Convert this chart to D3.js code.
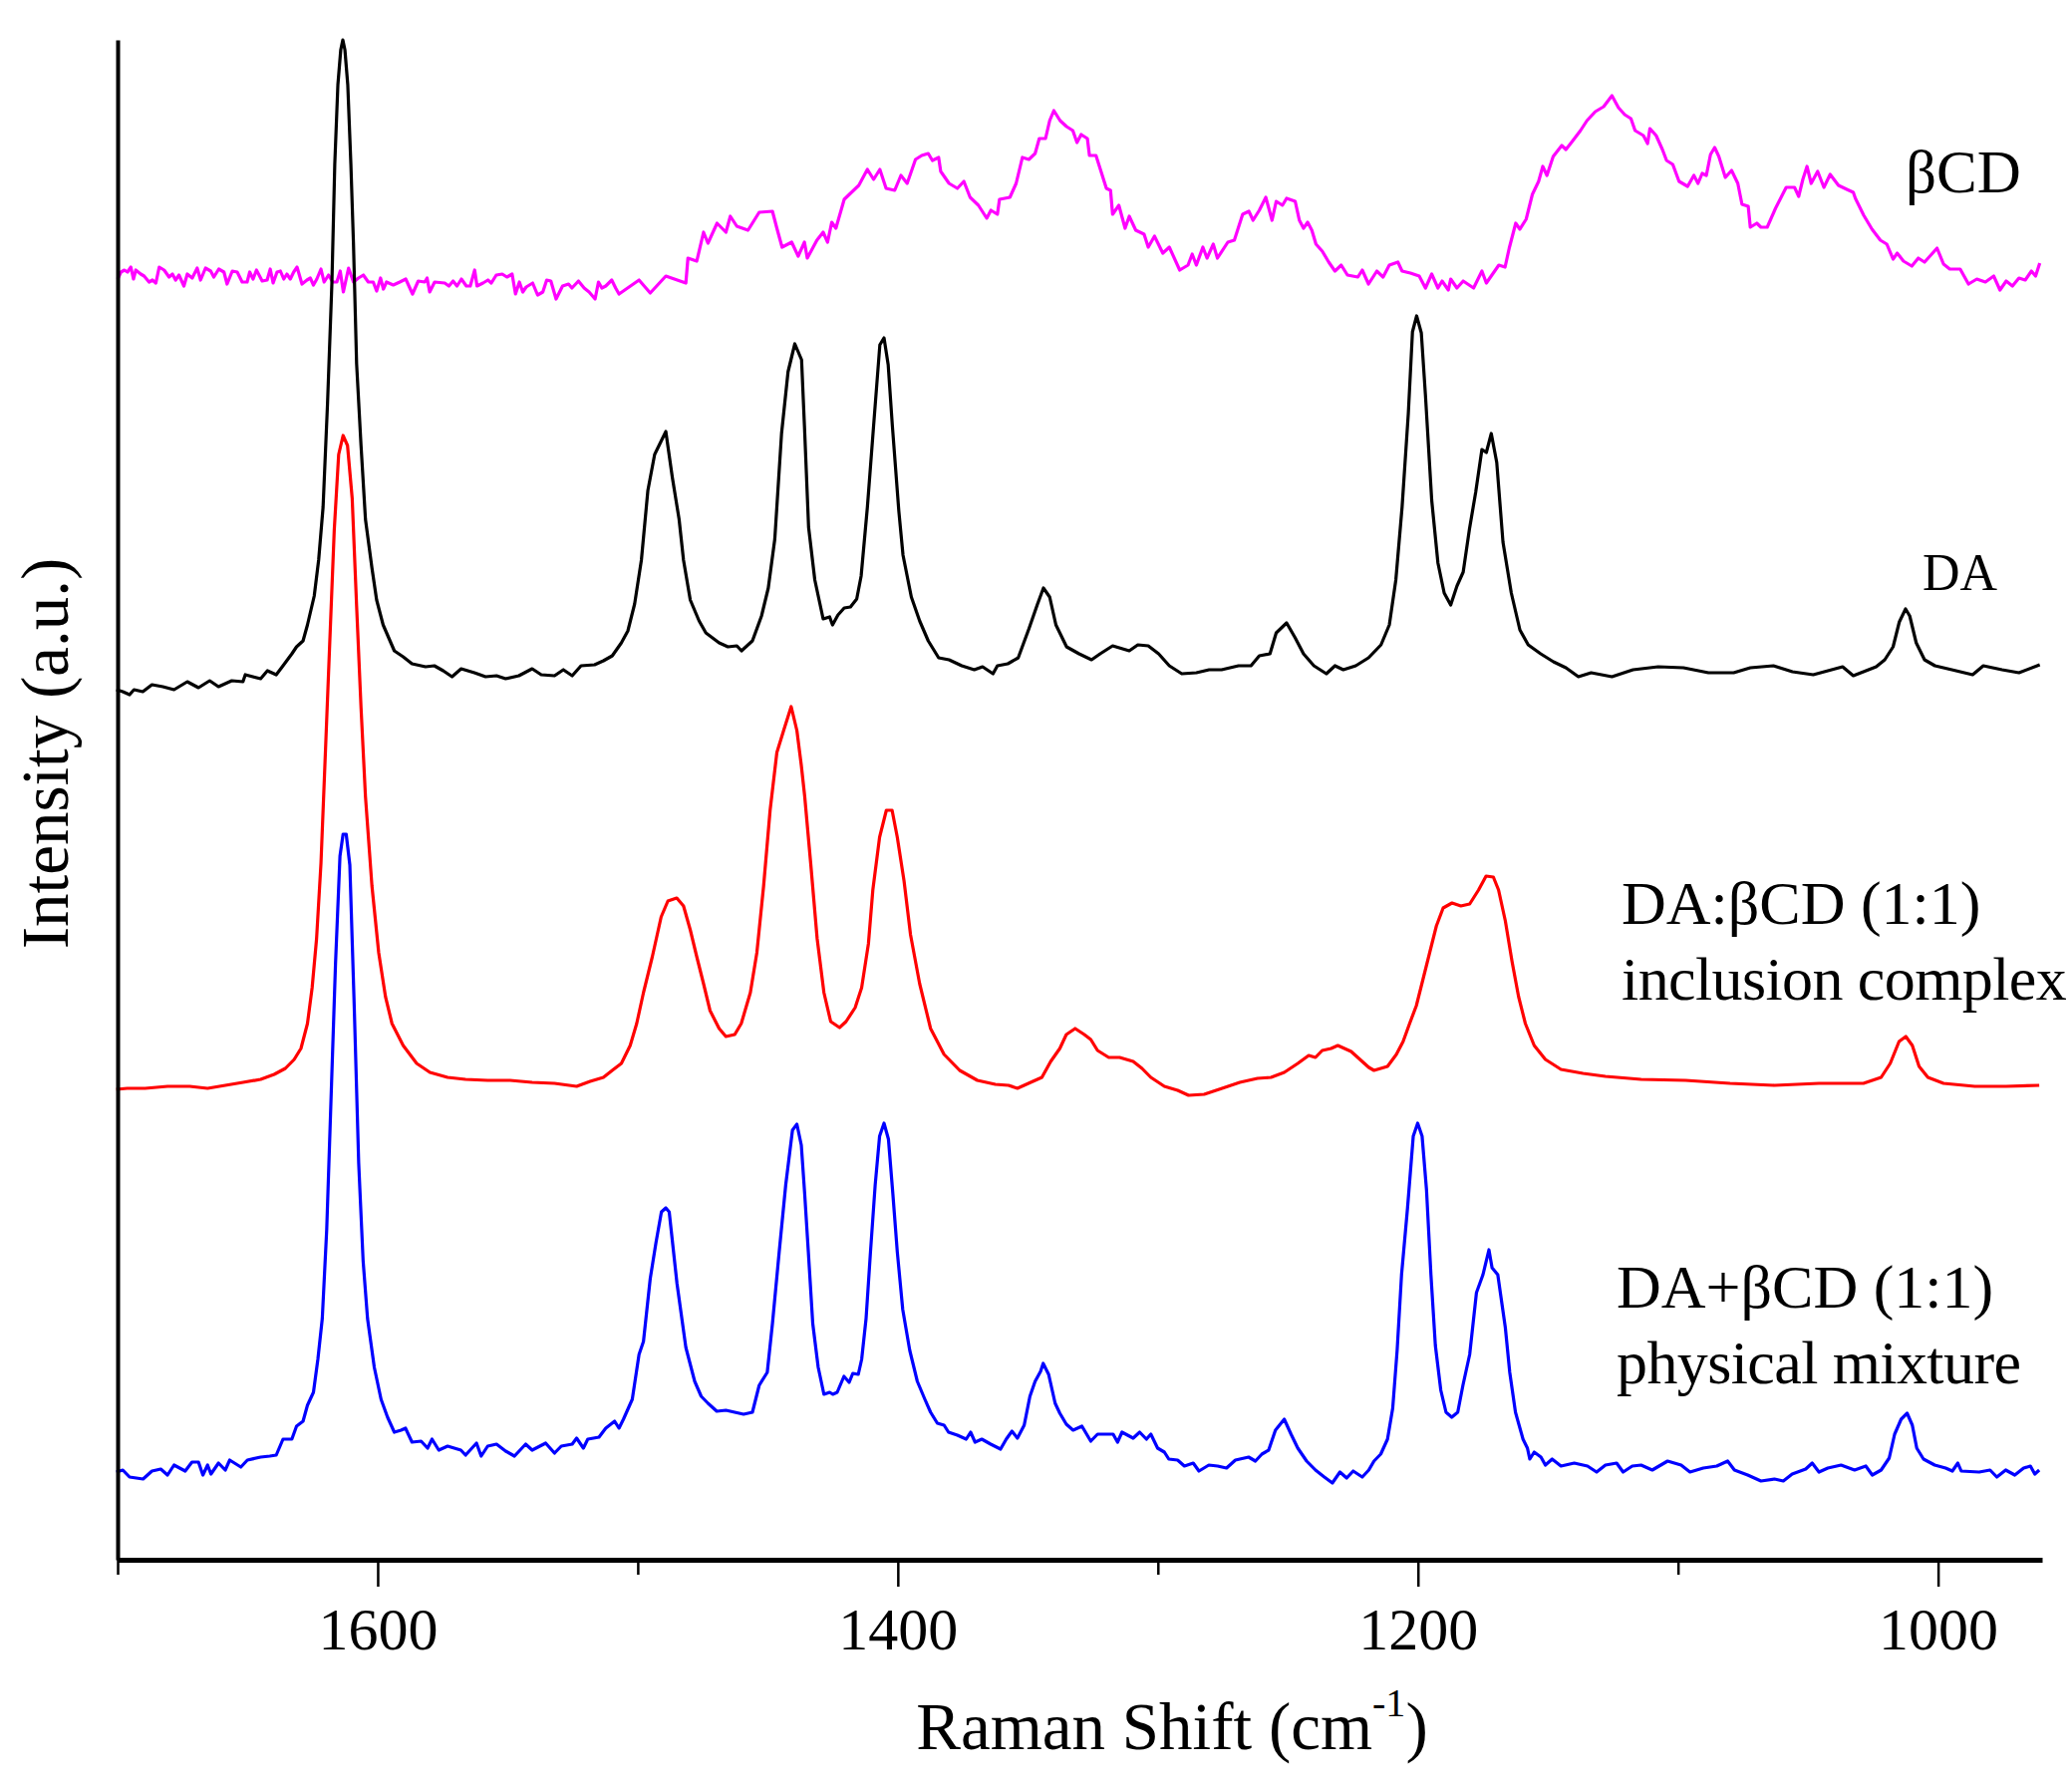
<!DOCTYPE html>
<meta charset="utf-8">
<head>
  <script src="https://cdn.jsdelivr.net/npm/d3@7"></script>
  <style>
    body { margin: 0; background: #fff; }
    text { font-family: "Liberation Serif", "Times New Roman", serif; fill: #000; }
  </style>
</head>
<body>
<script type="text/javascript">

// ---- data: [Raman shift (cm-1), intensity (a.u., offset stacked)] ----
var betaCD = [
  [1700,1285],[1698.7,1292],[1697.4,1294],[1696.2,1292],[1694.9,1297],[1693.9,1285],[1693,1294],[1691.1,1290],
  [1689.8,1288],[1687.9,1282],[1686.6,1284],[1685.3,1281],[1684,1297],[1682.1,1294],[1680.2,1287],[1678.9,1290],
  [1677.7,1284],[1676.4,1289],[1674.5,1278],[1673.2,1290],[1671.3,1286],[1669.4,1296],[1668.1,1284],[1666.2,1296],
  [1664.2,1293],[1663,1287],[1661.1,1295],[1659.1,1292],[1657.9,1280],[1655.9,1293],[1654,1292],[1652.1,1282],
  [1650.2,1282],[1649.2,1292],[1647.9,1285],[1646.6,1294],[1644.4,1283],[1642.5,1284],[1641.3,1295],[1640.2,1281],
  [1638.7,1292],[1637.4,1293],[1636.1,1285],[1634.9,1290],[1633.6,1285],[1632.3,1292],[1631,1297],[1629.1,1280],
  [1627.2,1284],[1625.9,1286],[1624.7,1279],[1623.4,1285],[1621.8,1295],[1620.6,1282],[1618.9,1289],[1617.3,1282],
  [1615.7,1282],[1614.4,1293],[1613.2,1272],[1611.2,1296],[1609.3,1282],[1607.4,1286],[1605.5,1289],[1603.6,1282],
  [1601.7,1282],[1600.4,1273],[1598.9,1286],[1597.8,1275],[1596.6,1282],[1594,1279],[1591.5,1282],[1589.2,1285],
  [1586.6,1270],[1584.4,1283],[1581.9,1282],[1581,1286],[1580,1272],[1578.1,1282],[1574.2,1281],[1572.6,1278],
  [1571,1283],[1569.5,1278],[1567.8,1285],[1565.9,1278],[1564.4,1278],[1562.7,1294],[1561.8,1278],[1559.5,1281],
  [1557.6,1284],[1556.3,1281],[1554.4,1289],[1552.1,1290],[1550.3,1287],[1548.3,1290],[1547,1270],[1545.5,1282],
  [1544.2,1272],[1542.9,1277],[1540.4,1281],[1538.5,1269],[1536.5,1272],[1535,1284],[1533.4,1283],[1531.4,1265],
  [1528.9,1278],[1526.6,1280],[1525.3,1276],[1522.8,1283],[1520.6,1276],[1518.7,1272],[1516.4,1265],[1515.1,1282],
  [1513.8,1276],[1512.3,1278],[1510,1284],[1508.5,1276],[1507.2,1270],[1499.5,1284],[1495.2,1271],[1489.2,1288],
  [1481.5,1281],[1480.7,1306],[1477.3,1303],[1474.7,1332],[1473,1321],[1469.5,1341],[1466.1,1332],[1464.4,1348],
  [1461.9,1338],[1457.6,1334],[1453.3,1352],[1448.2,1353],[1446.5,1336],[1444.5,1317],[1440.8,1322],[1438.3,1308],
  [1435.9,1322],[1434.8,1306],[1431.1,1324],[1428.7,1332],[1427,1322],[1425.4,1342],[1423.8,1336],[1420.6,1365],
  [1415,1379],[1411.7,1395],[1409.3,1385],[1406.9,1395],[1404.5,1376],[1401.2,1374],[1398.8,1389],[1396.4,1381],
  [1393.2,1405],[1390.8,1409],[1388.3,1411],[1386.7,1404],[1384.3,1407],[1383.5,1393],[1380.3,1381],[1377.1,1376],
  [1374.6,1383],[1372.2,1367],[1369,1359],[1365.8,1346],[1364.2,1354],[1361.7,1350],[1360.9,1365],[1356.9,1367],
  [1354.5,1381],[1352.1,1407],[1349.6,1405],[1347.2,1411],[1345.6,1426],[1343.2,1426],[1341.6,1444],[1340,1454],
  [1337.6,1444],[1335.1,1438],[1332.7,1434],[1331.1,1422],[1329.5,1430],[1327.1,1426],[1326.3,1409],[1323.8,1409],
  [1319.8,1376],[1318.2,1374],[1317.4,1350],[1315,1359],[1312.6,1336],[1311,1348],[1308.5,1334],[1305.3,1330],
  [1303.7,1317],[1301.3,1328],[1298.1,1311],[1295.6,1317],[1291.6,1294],[1288.4,1299],[1286.8,1310],[1285.2,1299],
  [1282.7,1317],[1281.1,1306],[1278.7,1320],[1277.1,1306],[1273.1,1322],[1270.6,1324],[1267.4,1350],[1265,1353],
  [1263.4,1344],[1261,1354],[1258.5,1367],[1256.1,1344],[1254.5,1363],[1252.1,1359],[1250.5,1366],[1247.2,1363],
  [1245.6,1344],[1244,1336],[1242.4,1342],[1240.8,1334],[1239.2,1320],[1236.8,1313],[1234.3,1302],[1231.9,1293],
  [1229.5,1299],[1227.1,1289],[1223.1,1287],[1221.4,1294],[1219,1280],[1215.8,1293],[1213.4,1287],[1211,1299],
  [1207.7,1302],[1206.1,1293],[1202.9,1291],[1199.5,1288],[1197.1,1276],[1194.7,1290],[1192.3,1276],[1190.7,1283],
  [1188.3,1274],[1187.4,1285],[1185,1276],[1182.6,1283],[1178.6,1276],[1175.4,1293],[1173.7,1281],[1168.9,1299],
  [1166.5,1297],[1164.9,1316],[1162.4,1341],[1160.8,1335],[1158.4,1345],[1156,1370],[1153.6,1383],[1152,1398],
  [1150.4,1389],[1148,1408],[1144.7,1419],[1143.1,1415],[1140.7,1423],[1137.5,1434],[1135,1444],[1131.8,1453],
  [1128.6,1458],[1125.4,1469],[1122.9,1457],[1120.5,1450],[1118.1,1446],[1116.5,1434],[1113.3,1429],[1111.7,1421],
  [1110.8,1436],[1108.4,1429],[1106,1415],[1104.4,1404],[1102,1400],[1099.6,1383],[1096.3,1378],[1093.9,1389],
  [1092.3,1381],[1090.7,1391],[1089.1,1389],[1087.5,1410],[1085.9,1417],[1084.3,1408],[1081.8,1387],[1079.4,1394],
  [1077,1381],[1075.4,1360],[1073,1358],[1072.2,1337],[1069.7,1341],[1068.1,1337],[1065.7,1337],[1062.5,1356],
  [1058.4,1377],[1055.2,1377],[1053.6,1368],[1052,1385],[1050.4,1398],[1048.8,1381],[1046.3,1393],[1043.9,1377],
  [1041.5,1390],[1038.3,1379],[1035.1,1375],[1032.6,1372],[1031.8,1366],[1028.6,1349],[1025.4,1335],[1022.2,1324],
  [1019.7,1320],[1017.3,1305],[1015.7,1311],[1013.3,1303],[1010.1,1298],[1007.6,1306],[1005.2,1302],[1002.8,1309],
  [1000.4,1316],[997.9,1300],[995.5,1295],[991.5,1295],[988.3,1280],[985.1,1285],[981.8,1282],[978.6,1288],
  [976.2,1274],[973.8,1283],[971.4,1278],[968.9,1286],[966.5,1284],[964.1,1293],[962.5,1288],[960.9,1301]
];

var daPure = [
  [1700.5,873],[1698,871],[1695.4,868],[1693.7,873],[1690.3,871],[1686.8,878],[1682.6,876],[1678.3,873],
  [1673.2,881],[1668.9,875],[1664.6,882],[1661.2,876],[1656.1,882],[1651.8,881],[1650.9,888],[1645,884],
  [1642.4,892],[1639,888],[1636.4,897],[1633,909],[1631.2,916],[1628.7,922],[1627,938],[1624.4,967],
  [1622.7,1003],[1621,1056],[1619.3,1159],[1617.6,1281],[1616.5,1400],[1615.3,1480],[1614.2,1515],[1613.4,1525],
  [1612.6,1515],[1611.5,1480],[1610.3,1400],[1609.3,1320],[1608.1,1200],[1606.4,1118],[1604.7,1044],[1602.2,995],
  [1600.4,963],[1597.9,938],[1593.6,912],[1590.2,906],[1586.8,899],[1581.6,896],[1578.2,897],[1574.8,892],
  [1571.4,886],[1567.9,894],[1562.8,890],[1558.5,886],[1554.3,887],[1550.8,884],[1545.7,887],[1540.6,894],
  [1537.1,888],[1532,887],[1528.6,893],[1525.2,887],[1521.8,897],[1516.6,898],[1513.2,902],[1509.8,907],
  [1506.3,920],[1503.8,932],[1501.2,959],[1498.6,1003],[1496.1,1073],[1493.5,1109],[1489.2,1132],[1486.7,1086],
  [1484.1,1044],[1482.4,1003],[1479.8,963],[1476.4,942],[1473.8,930],[1468.7,920],[1465.3,916],[1461.9,917],
  [1460.1,912],[1455.9,922],[1452.4,947],[1449.8,975],[1447.3,1024],[1444.7,1130],[1442.2,1192],[1439.6,1220],
  [1437,1204],[1435.9,1138],[1434.3,1036],[1431.9,983],[1428.7,944],[1426.2,946],[1425.1,938],[1423,948],
  [1420.6,955],[1418.2,956],[1415.8,964],[1414.1,987],[1411.7,1056],[1409.3,1138],[1406.9,1219],[1405.3,1226],
  [1403.7,1199],[1402.1,1138],[1399.6,1052],[1398,1008],[1394.8,966],[1391.6,942],[1388.3,922],[1384.3,905],
  [1380.3,903],[1375.4,897],[1370.6,893],[1367.4,896],[1363.4,889],[1361.7,897],[1357.7,899],[1353.7,905],
  [1349.6,934],[1346.4,958],[1344,975],[1341.6,966],[1339.2,938],[1335.1,916],[1330.3,909],[1325.5,903],
  [1322.2,909],[1317.4,917],[1311,912],[1307.7,918],[1303.7,917],[1299.7,909],[1295.6,897],[1290.8,889],
  [1285.2,890],[1280.3,893],[1275.5,893],[1269,897],[1264.2,897],[1261,907],[1256.9,909],[1254.5,930],
  [1250.5,940],[1247.2,925],[1244,909],[1240,897],[1235.2,889],[1231.9,897],[1228.7,893],[1223.9,897],
  [1219,905],[1214.2,918],[1211,938],[1208.5,983],[1206.1,1056],[1203.7,1150],[1202.1,1232],[1200.5,1248],
  [1198.7,1231],[1197.1,1168],[1194.7,1063],[1192.3,1000],[1189.9,970],[1187.4,958],[1185,977],[1182.6,991],
  [1180.2,1034],[1177.8,1071],[1175.4,1114],[1173.7,1111],[1171.8,1130],[1169.7,1101],[1167.3,1021],[1164.1,970],
  [1160.8,933],[1157.6,918],[1152.8,909],[1147.9,901],[1143.1,895],[1138.3,886],[1133.4,890],[1125.4,886],
  [1117.3,893],[1107.6,896],[1097.9,895],[1088.3,890],[1078.6,890],[1072.2,895],[1063.3,897],[1056,891],
  [1048,888],[1036.7,896],[1032.6,887],[1023.8,896],[1020.5,903],[1017.3,916],[1014.9,941],[1012.5,954],
  [1010.9,947],[1008.4,920],[1005.2,903],[1001.2,897],[994.7,893],[986.7,888],[982.6,897],[975.4,893],
  [968.9,890],[960.9,898]
];

var inclusionComplex = [
  [1700.5,472],[1696.3,473],[1689.4,473],[1680.8,475],[1672.3,475],[1665.4,473],[1658.6,476],[1651.8,479],
  [1645,482],[1639.8,487],[1635.5,493],[1632.1,502],[1629.5,513],[1627,538],[1625.2,574],[1623.5,623],
  [1621.8,699],[1620.1,810],[1618.4,922],[1616.7,1033],[1615,1109],[1613.3,1128],[1611.6,1118],[1609.8,1065],
  [1608.1,957],[1606.4,855],[1604.7,766],[1602.2,676],[1599.6,609],[1597,565],[1594.5,538],[1590.2,516],
  [1585,498],[1579.9,489],[1573.1,484],[1566.2,482],[1557.7,481],[1549.1,481],[1540.6,479],[1532,478],
  [1523.5,475],[1518.3,480],[1513.2,484],[1509.8,491],[1506.3,498],[1502.9,516],[1500.4,538],[1497.8,569],
  [1494.4,605],[1491,645],[1488.4,661],[1485,664],[1482.4,656],[1479.8,632],[1477.3,605],[1474.7,578],
  [1472.2,551],[1468.7,533],[1466.1,525],[1462.7,527],[1460.2,538],[1456.7,569],[1454.2,609],[1451.6,676],
  [1449.1,752],[1446.5,810],[1443.9,832],[1441,856],[1438.8,832],[1437.1,797],[1435.8,766],[1433.5,699],
  [1431,623],[1428.4,569],[1425.8,540],[1422.4,534],[1419.9,540],[1416.4,554],[1413.9,574],[1411.3,618],
  [1409.6,672],[1407,725],[1404.4,752],[1402.2,752],[1400.2,725],[1397.6,681],[1395.1,627],[1391.6,578],
  [1387.4,533],[1382.2,507],[1376.2,491],[1369.4,481],[1362.5,477],[1357.4,476],[1354,473],[1348.9,479],
  [1344.6,484],[1341.2,500],[1337.7,513],[1335.2,527],[1331.8,533],[1328.3,527],[1325.8,522],[1323.2,511],
  [1318.9,504],[1314.7,504],[1309.5,500],[1306.1,493],[1302.7,484],[1297.5,475],[1292.4,471],[1288.2,466],
  [1282.2,467],[1275.3,473],[1268.5,479],[1261.7,483],[1256.5,484],[1251.4,489],[1246.2,498],[1242,506],
  [1239.4,504],[1236.8,511],[1233.4,513],[1230.8,516],[1225.7,510],[1222.3,502],[1218.9,494],[1216.9,491],
  [1211.7,495],[1208.3,507],[1205.7,520],[1203.2,538],[1200.6,556],[1198,583],[1195.5,609],[1192.9,636],
  [1190.3,654],[1186.9,659],[1183.5,656],[1180.1,658],[1176.7,672],[1173.8,686],[1171,685],[1169,672],
  [1166.4,641],[1163.8,600],[1161.3,565],[1158.7,538],[1155.3,516],[1151,502],[1145,492],[1136.5,488],
  [1127.9,485],[1114.2,482],[1097.1,481],[1080,478],[1062.9,476],[1045.8,478],[1028.7,478],[1021.9,484],
  [1018.4,498],[1015,520],[1012.4,525],[1009.9,516],[1007.3,495],[1003.9,484],[997.9,478],[985.9,475],
  [973.9,475],[961.1,476]
];

var physicalMixture = [
  [1700.5,88],[1698,90],[1695.4,83],[1690.2,81],[1686.8,89],[1683.4,91],[1680.8,85],[1678.3,95],
  [1674,89],[1671.4,98],[1668.9,98],[1667.2,85],[1665.4,95],[1664.1,86],[1661.2,97],[1658.6,90],
  [1656.9,100],[1652.6,93],[1650.1,100],[1645,103],[1641.5,104],[1639,105],[1636.4,121],[1633,121],
  [1631.2,134],[1628.7,139],[1627,155],[1624.7,168],[1623,201],[1621.3,242],[1619.6,331],[1617.9,465],
  [1616.2,599],[1614.5,706],[1613.3,728],[1612.1,728],[1610.7,697],[1609,554],[1607.3,398],[1605.6,300],
  [1603.9,242],[1601.3,193],[1598.7,161],[1596.2,143],[1593.6,128],[1591,130],[1589.3,132],[1586.8,118],
  [1583.3,119],[1580.8,112],[1579.1,121],[1576.5,110],[1573.1,114],[1568,110],[1566.2,105],[1562,117],
  [1560.2,104],[1557.7,114],[1554.3,116],[1550.8,109],[1547.4,104],[1543.1,116],[1540.6,110],[1535.4,117],
  [1532,107],[1529.4,114],[1525.2,116],[1523.5,122],[1520.9,112],[1519.2,121],[1514.9,123],[1512.3,132],
  [1508.9,139],[1507.2,132],[1505.5,141],[1502.1,161],[1499.5,206],[1497.8,219],[1495.2,282],[1493,318],
  [1490.9,349],[1489.2,353],[1487.9,349],[1484.9,277],[1481.5,213],[1478.1,179],[1475.6,164],[1473,157],
  [1469.6,149],[1466.1,150],[1462.7,148],[1459.3,146],[1455.9,148],[1453.3,175],[1450.2,188],[1448.2,237],
  [1445.6,309],[1443.1,376],[1440.5,431],[1438.8,437],[1437.1,416],[1435.8,367],[1434.4,309],[1432.7,237],
  [1430.6,193],[1428.4,166],[1426.2,168],[1425,166],[1423.3,168],[1420.7,184],[1418.7,178],[1417.3,187],
  [1415.2,186],[1413.9,201],[1412.2,242],[1410.5,309],[1408.7,376],[1407,425],[1405.3,438],[1403.6,422],
  [1401.9,367],[1400.2,309],[1398.1,251],[1395.4,210],[1392.5,179],[1389.6,161],[1387.4,148],[1384.8,137],
  [1382.2,135],[1380.5,128],[1377.1,125],[1373.7,121],[1372,128],[1370.3,118],[1367.7,121],[1364.3,116],
  [1360.5,111],[1358.3,121],[1356.1,129],[1354,122],[1351.4,135],[1349.2,164],[1347.2,179],[1345.1,189],
  [1344.1,197],[1342,186],[1339.5,157],[1337.7,147],[1335.2,136],[1332.6,130],[1329.2,134],[1325.8,119],
  [1323.2,126],[1320.6,126],[1317.2,126],[1315.5,118],[1313.8,128],[1309.5,122],[1307,128],[1304.4,121],
  [1302.7,126],[1300.1,112],[1297.5,108],[1295.8,101],[1292.4,100],[1289.8,94],[1286.4,97],[1284.2,89],
  [1280.4,95],[1277,94],[1273.6,92],[1270.2,100],[1265.1,103],[1262.5,99],[1260,106],[1257.4,110],
  [1254.8,130],[1251.4,141],[1248.8,126],[1246.2,112],[1242.8,99],[1239.4,90],[1236,83],[1232.9,77],
  [1230,88],[1227.4,82],[1224.9,89],[1221.4,83],[1218.9,90],[1216.9,99],[1214.3,106],[1211.7,121],
  [1209.7,152],[1208,210],[1206.3,286],[1204,353],[1201.8,425],[1200.1,438],[1198.4,425],[1196.7,371],
  [1195,286],[1193.3,215],[1191.2,170],[1189.2,148],[1187,143],[1184.7,148],[1182.7,175],[1180.1,206],
  [1177.5,268],[1175,286],[1172.7,311],[1171.5,293],[1169.3,286],[1166.4,233],[1164.7,188],[1162.5,148],
  [1159.6,121],[1157.9,112],[1157,101],[1155.3,108],[1152.7,103],[1151,95],[1148.4,101],[1145,94],
  [1139.9,97],[1134.8,94],[1131.3,88],[1127.9,95],[1123.6,97],[1121.1,88],[1117.6,94],[1114.2,95],
  [1109.9,90],[1104,99],[1098.8,95],[1095.4,88],[1090.3,92],[1085.1,94],[1080.9,99],[1078.3,90],
  [1073.2,85],[1068.1,79],[1062.9,81],[1059.5,79],[1056.1,86],[1050.9,91],[1048.4,97],[1045.8,88],
  [1042.4,92],[1037.3,95],[1032.1,90],[1027.8,94],[1025.3,85],[1021.9,90],[1018.8,102],[1016.7,126],
  [1014.2,141],[1011.9,147],[1009.9,135],[1008.2,112],[1005.6,101],[1001.3,95],[997.1,92],[994.5,89],
  [992.4,97],[991.1,89],[984.2,88],[980,90],[977.4,83],[974,90],[970.5,85],[967.1,92],
  [964.5,94],[962.8,86],[961.1,90]
];

var majorTicks = [1600, 1400, 1200, 1000];
var minorTicks = [1700, 1500, 1300, 1100];

var seriesNames = ["βCD", "DA", "DA:βCD (1:1)", "DA+βCD (1:1)"];
var seriesNotes = ["", "", "inclusion complex", "physical mixture"];

// ---- layout ----
var w = 2079;
var h = 1790;
var plotLeft = 118, plotRight = 2049, plotTop = 40, plotBottom = 1565;

var svg = d3.select("body").append("svg")
    .attr("width", w)
    .attr("height", h);

var x = d3.scaleLinear().domain([1700, 960]).range([plotLeft, plotRight]);
var y = d3.scaleLinear().domain([0, 1525]).range([plotBottom, plotTop]);

var line = d3.line()
    .x(function(d) { return x(d[0]); })
    .y(function(d) { return y(d[1]); });

var series = [
  { data: betaCD, color: "#ff00ff" },
  { data: daPure, color: "#000000" },
  { data: inclusionComplex, color: "#ff0000" },
  { data: physicalMixture, color: "#0000ff" }
];

svg.selectAll("path.spectrum")
  .data(series)
  .enter()
  .append("path")
  .attr("class", "spectrum")
  .attr("d", function(d) { return line(d.data); })
  .attr("fill", "none")
  .attr("stroke", function(d) { return d.color; })
  .attr("stroke-width", 3.2)
  .attr("stroke-linejoin", "round");

// x axis: major ticks with labels, minor ticks without
var xAxis = svg.append("g")
    .attr("transform", "translate(0," + plotBottom + ")")
    .call(d3.axisBottom(x).tickValues(majorTicks).tickSize(27).tickSizeOuter(0).tickFormat(d3.format("d")));

xAxis.select(".domain").attr("stroke-width", 5);
xAxis.selectAll(".tick line").attr("stroke-width", 2.5);
xAxis.selectAll(".tick text")
    .attr("y", 90)
    .attr("dy", 0)
    .style("font-family", "'Liberation Serif', 'Times New Roman', serif")
    .style("font-size", "60px");

svg.append("g")
    .attr("transform", "translate(0," + plotBottom + ")")
    .call(d3.axisBottom(x).tickValues(minorTicks).tickSize(15).tickSizeOuter(0).tickFormat(""))
    .call(function(g) { g.select(".domain").remove(); })
    .selectAll(".tick line").attr("stroke-width", 2.5);

// y axis: bare line, no ticks
var yAxis = svg.append("g")
    .attr("transform", "translate(" + plotLeft + ",0)")
    .call(d3.axisLeft(y).tickValues([]).tickSizeOuter(0));
yAxis.select(".domain").attr("stroke-width", 4);

// axis titles
var xTitle = svg.append("text")
    .attr("x", 1176)
    .attr("y", 1755)
    .attr("text-anchor", "middle")
    .style("font-size", "67px");
xTitle.append("tspan").text("Raman Shift (cm");
xTitle.append("tspan").attr("dy", -33).style("font-size", "40px").text("-1");
xTitle.append("tspan").attr("dy", 33).text(")");

svg.append("text")
    .attr("transform", "translate(68,756) rotate(-90)")
    .attr("text-anchor", "middle")
    .style("font-size", "67px")
    .text("Intensity (a.u.)");

// spectrum labels
var labelPos = [
  { x: 1912, y: 193, size: 61 },
  { x: 1929, y: 592, size: 52 },
  { x: 1627, y: 927, size: 62 },
  { x: 1622, y: 1312, size: 62 }
];
var lineGap = 76;

seriesNames.forEach(function(name, i) {
  var p = labelPos[i];
  var t = svg.append("text")
      .attr("x", p.x)
      .attr("y", p.y)
      .style("font-size", p.size + "px");
  t.append("tspan").attr("x", p.x).text(name);
  if (seriesNotes[i]) {
    t.append("tspan")
      .attr("x", p.x)
      .attr("dy", lineGap)
      .style("letter-spacing", "-0.6px")
      .text(seriesNotes[i]);
  }
});

</script>
</body>
